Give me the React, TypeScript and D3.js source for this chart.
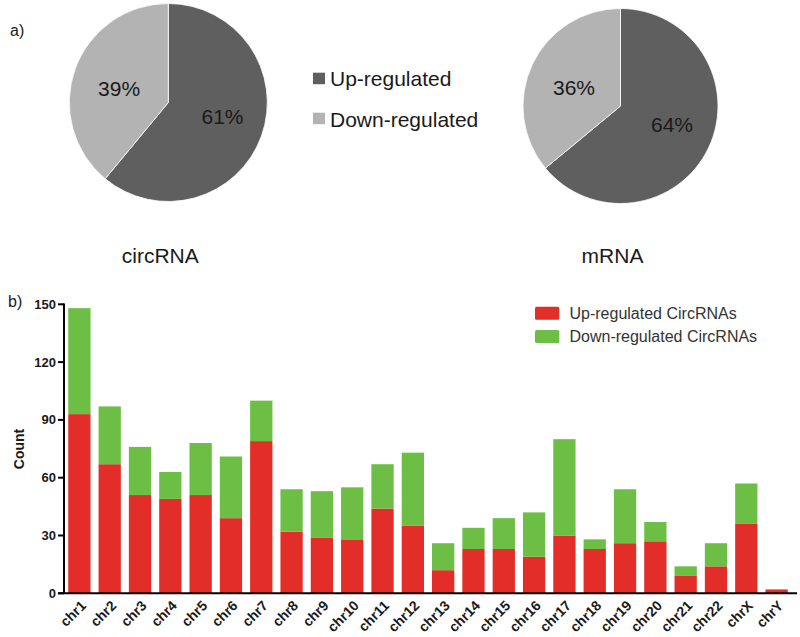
import React from "react";
import * as d3 from "d3";

const pieLabels = ["Up-regulated", "Down-regulated"];
const circValues = [61, 39];
const mrnaValues = [64, 36];
const pieColors = ["#5f5f5f", "#b3b3b3"];

const chromosomes = ["chr1","chr2","chr3","chr4","chr5","chr6","chr7","chr8","chr9","chr10","chr11","chr12","chr13","chr14","chr15","chr16","chr17","chr18","chr19","chr20","chr21","chr22","chrX","chrY"];
const upCounts = [93,67,51,49,51,39,79,32,29,28,44,35,12,23,23,19,30,23,26,27,9,14,36,2];
const downCounts = [55,30,25,14,27,32,21,22,24,27,23,38,14,11,16,23,50,5,28,10,5,12,21,0];
const yTicks = [0,30,60,90,120,150];
const barSeries = ["Up-regulated CircRNAs", "Down-regulated CircRNAs"];
const barColors = ["#e32d29", "#6cbf44"];

const FONT = "'Liberation Sans', Arial, Helvetica, sans-serif";

function Pie({ cx, cy, r, values, title }: { cx: number; cy: number; r: number; values: number[]; title: string }) {
  const arcs = d3.pie<number>().sort(null).value((d) => d)(values);
  const arc = d3.arc<d3.PieArcDatum<number>>().innerRadius(0).outerRadius(r);
  const labelArc = d3.arc<d3.PieArcDatum<number>>().innerRadius(r * 0.55).outerRadius(r * 0.55);
  return (
    <g>
      <g transform={`translate(${cx},${cy})`}>
        {arcs.map((a, i) => (
          <path key={i} d={arc(a) || ""} fill={pieColors[i]} stroke="#ffffff" strokeWidth={0.8} />
        ))}
        {arcs.map((a, i) => {
          const [x, y] = labelArc.centroid(a);
          return (
            <text key={"t" + i} x={x + (i === 0 ? 3 : 2)} y={y + (i === 0 ? -4 : 4)} textAnchor="middle" dominantBaseline="central" fontSize={21} fill="#1a1a1a" fontFamily={FONT}>
              {values[i]}%
            </text>
          );
        })}
      </g>
      <text x={cx - 8} y={255} textAnchor="middle" dominantBaseline="central" fontSize={21} fill="#1a1a1a" fontFamily={FONT}>
        {title}
      </text>
    </g>
  );
}

export default function App() {
  const x = d3.scaleBand<string>().domain(chromosomes).range([64, 792]).paddingInner(0.265).paddingOuter(0.14);
  const y = d3.scaleLinear().domain([0, 150]).range([593.3, 304.3]);
  const stacked = d3.stack<any>().keys(["up", "down"])(
    chromosomes.map((c, i) => ({ chr: c, up: upCounts[i], down: downCounts[i] }))
  );

  return (
    <svg width={800} height={637} style={{ position: "absolute", left: 0, top: 0, background: "#fff" }}>
      <rect x={0} y={0} width={800} height={637} fill="#ffffff" />
      {/* Panel a */}
      <text x={10} y={36} fontSize={16} fill="#1a1a1a" fontFamily={FONT}>a)</text>
      <Pie cx={168.3} cy={102.5} r={99} values={circValues} title="circRNA" />
      <Pie cx={620.5} cy={106} r={97.5} values={mrnaValues} title="mRNA" />
      {pieLabels.map((l, i) => (
        <g key={l}>
          <rect x={313} y={72.7 + i * 40} width={12} height={11.5} fill={pieColors[i]} />
          <text x={330} y={78.5 + i * 40.5} dominantBaseline="central" fontSize={21} fill="#1a1a1a" fontFamily={FONT}>{l}</text>
        </g>
      ))}

      {/* Panel b */}
      <text x={8} y={307} fontSize={16} fill="#1a1a1a" fontFamily={FONT}>b)</text>
      {stacked.map((s, si) => (
        <g key={si} fill={barColors[si]}>
          {s.map((d, i) => (
            d[1] - d[0] > 0 ? (
              <rect key={i} x={x(chromosomes[i])} y={y(d[1])} width={x.bandwidth()} height={y(d[0]) - y(d[1])} />
            ) : null
          ))}
        </g>
      ))}
      {/* y axis */}
      <line x1={64} x2={64} y1={303.5} y2={594} stroke="#000" strokeWidth={2} />
      {yTicks.map((t) => (
        <g key={t}>
          <line x1={58} x2={64} y1={y(t)} y2={y(t)} stroke="#000" strokeWidth={2} />
          <text x={56} y={y(t)} textAnchor="end" dominantBaseline="central" fontSize={13} fontWeight="bold" fill="#1a1a1a" fontFamily={FONT}>{t}</text>
        </g>
      ))}
      <line x1={58} x2={797} y1={593.3} y2={593.3} stroke="#000" strokeWidth={2} />
      <text transform="translate(24,449) rotate(-90)" textAnchor="middle" fontSize={14} fontWeight="bold" fill="#1a1a1a" fontFamily={FONT}>Count</text>
      {chromosomes.map((c) => {
        const cx = (x(c) as number) + x.bandwidth() / 2 + 4;
        return (
          <text key={c} transform={`translate(${cx},${603}) rotate(-45)`} textAnchor="end" dominantBaseline="central" fontSize={14} fontWeight="bold" fill="#1a1a1a" fontFamily={FONT}>{c}</text>
        );
      })}
      {barSeries.map((s, i) => (
        <g key={s}>
          <rect x={535} y={306.7 + i * 23.3} width={24.3} height={13} rx={1.5} fill={barColors[i]} />
          <text x={569.5} y={313.5 + i * 23.3} dominantBaseline="central" fontSize={16} fill="#333" fontFamily={FONT}>{s}</text>
        </g>
      ))}
    </svg>
  );
}
